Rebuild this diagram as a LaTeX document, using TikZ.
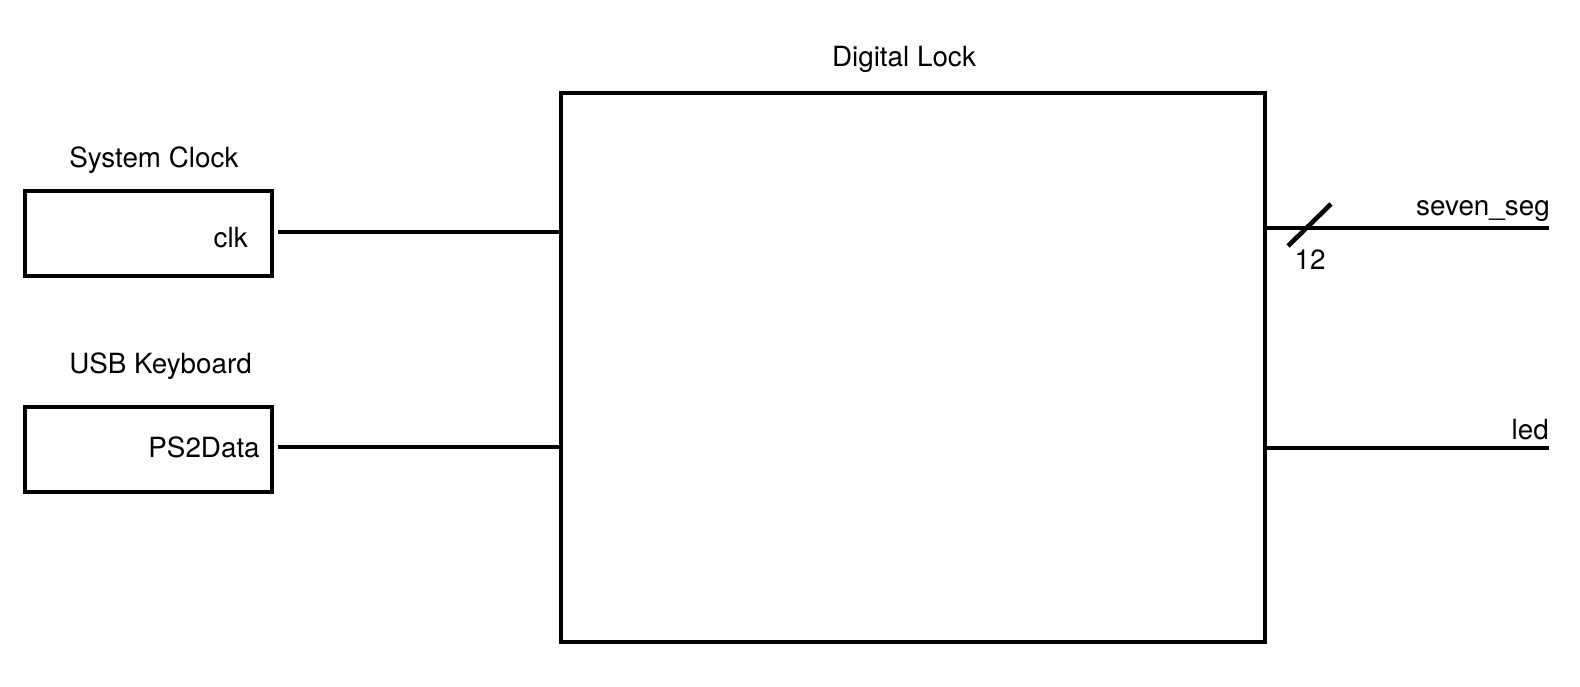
\documentclass[tikz,border=0pt]{standalone}
\usepackage{fontspec}
\setmainfont{TeX Gyre Heros}
\usetikzlibrary{positioning}
\begin{document}
\begin{tikzpicture}[x=0.5pt,y=-0.5pt,line width=2.3pt,font=\fontsize{13.9}{16}\selectfont,
	block/.style={draw,line width=2.3pt,inner sep=0pt}]
	\useasboundingbox (0,0) rectangle (1580,686);
	% blocks
	\node [block,minimum width=352pt,minimum height=274.5pt] (lock) at (913,367.5) {};
	\node [block,minimum width=123.5pt,minimum height=42.5pt] (sysclk) at (148.5,233.5) {};
	\node [block,minimum width=123.5pt,minimum height=42.5pt] (keyb) at (148.5,449.5) {};
	% titles
	\node [anchor=base] (locklbl) at (904,66.5) {Digital Lock};
	\node [anchor=base west,inner sep=0pt] (sysclklbl) at (67,167) {System Clock};
	\node [anchor=base west,inner sep=0pt] (keyblbl) at (67,373) {USB Keyboard};
	% ports
	\node [anchor=base east,inner sep=0pt] (clk) at (250,247) {clk};
	\node [anchor=base east,inner sep=0pt] (ps2) at (262,457) {PS2Data};
	% wires in
	\draw ([xshift=2pt]sysclk.east |- 0,232) -- (lock.west |- 0,232);
	\draw ([xshift=2pt]keyb.east |- 0,447) -- (lock.west |- 0,447);
	% wires out
	\coordinate (segout) at (1549,228);
	\coordinate (ledout) at (1549,448);
	\draw (lock.east |- segout) -- (segout);
	\draw (lock.east |- ledout) -- (ledout);
	\node [anchor=base east,inner sep=0pt] (seglbl) at (1552,215) {seven\_seg};
	\node [anchor=base east,inner sep=0pt] (ledlbl) at (1551,439) {led};
	% bus width
	\draw (1288,246) -- (1331,204);
	\node [anchor=base,inner sep=0pt] (buswidth) at (1310,269) {12};
\end{tikzpicture}
\end{document}
